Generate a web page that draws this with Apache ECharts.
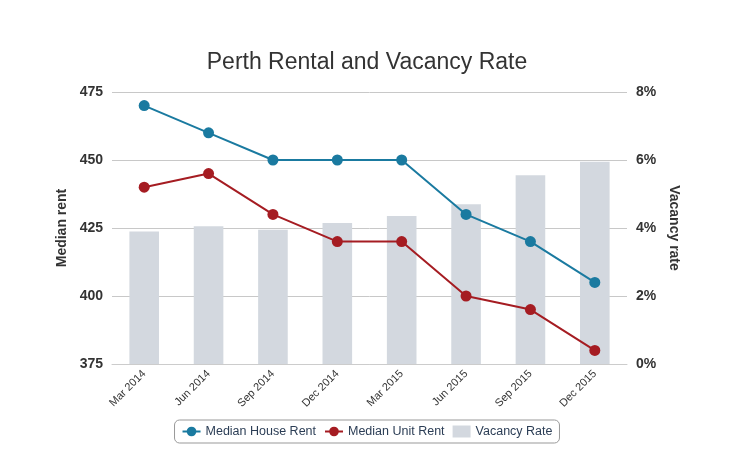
<!DOCTYPE html>
<html>
	<head>
		<meta charset="UTF-8">
		<title></title>
		<script src="https://cdn.jsdelivr.net/npm/echarts@6/dist/echarts.min.js"></script>
		<style type="text/css">
			html, body{
				margin: 0;
				padding: 0;
				background: #fff;
			}
			#chart{
				width: 734px;
				height: 450px;
			}
		</style>
	</head>
	<body>
		<div id="chart"></div>
		<script>
		var quarters = ['Mar 2014','Jun 2014','Sep 2014','Dec 2014','Mar 2015','Jun 2015','Sep 2015','Dec 2015'];
		var houseRent = [470, 460, 450, 450, 450, 430, 420, 405];
		var unitRent = [440, 445, 430, 420, 420, 400, 395, 380];
		var vacancy = [3.9, 4.05, 3.95, 4.15, 4.35, 4.7, 5.55, 5.95];

		var myChart = echarts.init(document.getElementById('chart'));
		var font = 'Liberation Sans, Arial, sans-serif';
		var option = {
			textStyle: {fontFamily: font},
			title: {
				text: 'Perth Rental and Vacancy Rate',
				left: 'center',
				top: 46,
				textStyle: {fontSize: 23, fontWeight: 'normal', color: '#333', fontFamily: font}
			},
			legend: {
				bottom: 7,
				left: 'center',
				borderColor: '#999',
				borderWidth: 1,
				borderRadius: 5,
				padding: [5, 7],
				itemGap: 8,
				itemWidth: 18,
				itemHeight: 12,
				textStyle: {color: '#2b3d55', fontSize: 12.5, fontFamily: font},
				data: [
					{name: 'Median House Rent'},
					{name: 'Median Unit Rent'},
					{name: 'Vacancy Rate', icon: 'rect', itemStyle: {color: '#d3d8df'}}
				]
			},
			grid: {
				left: 112,
				right: 107,
				top: 92,
				bottom: 86
			},
			xAxis: {
				type: 'category',
				data: quarters,
				axisTick: {show: false},
				axisLine: {lineStyle: {color: '#ccc'}},
				axisLabel: {rotate: 45, fontSize: 11, color: '#333', margin: 8, fontFamily: font}
			},
			yAxis: [
				{
					type: 'value',
					name: 'Median rent',
					nameLocation: 'middle',
					nameGap: 33,
					nameTextStyle: {fontSize: 14, fontWeight: 'bold', color: '#333'},
					min: 375,
					max: 475,
					interval: 25,
					axisLine: {show: false},
					axisTick: {show: false},
					axisLabel: {fontSize: 14, fontWeight: 'bold', color: '#333', margin: 9},
					splitLine: {lineStyle: {color: '#c8c8c8'}}
				},
				{
					type: 'value',
					name: 'Vacancy rate',
					nameLocation: 'middle',
					nameGap: 40,
					nameRotate: -90,
					nameTextStyle: {fontSize: 14, fontWeight: 'bold', color: '#333'},
					min: 0,
					max: 8,
					interval: 2,
					axisLine: {show: false},
					axisTick: {show: false},
					axisLabel: {formatter: '{value}%', fontSize: 14, fontWeight: 'bold', color: '#333', margin: 9},
					splitLine: {show: false}
				}
			],
			series: [
				{
					name: 'Vacancy Rate',
					type: 'bar',
					yAxisIndex: 1,
					data: vacancy,
					barWidth: '46%',
					itemStyle: {color: '#d3d8df'},
					z: 1
				},
				{
					name: 'Median House Rent',
					type: 'line',
					data: houseRent,
					symbol: 'circle',
					symbolSize: 11,
					lineStyle: {width: 2, color: '#1a7aa0'},
					itemStyle: {color: '#1a7aa0'},
					z: 3
				},
				{
					name: 'Median Unit Rent',
					type: 'line',
					data: unitRent,
					symbol: 'circle',
					symbolSize: 11,
					lineStyle: {width: 2, color: '#a51c22'},
					itemStyle: {color: '#a51c22'},
					z: 3
				}
			]
		};
		myChart.setOption(option);
		</script>
	</body>
</html>
